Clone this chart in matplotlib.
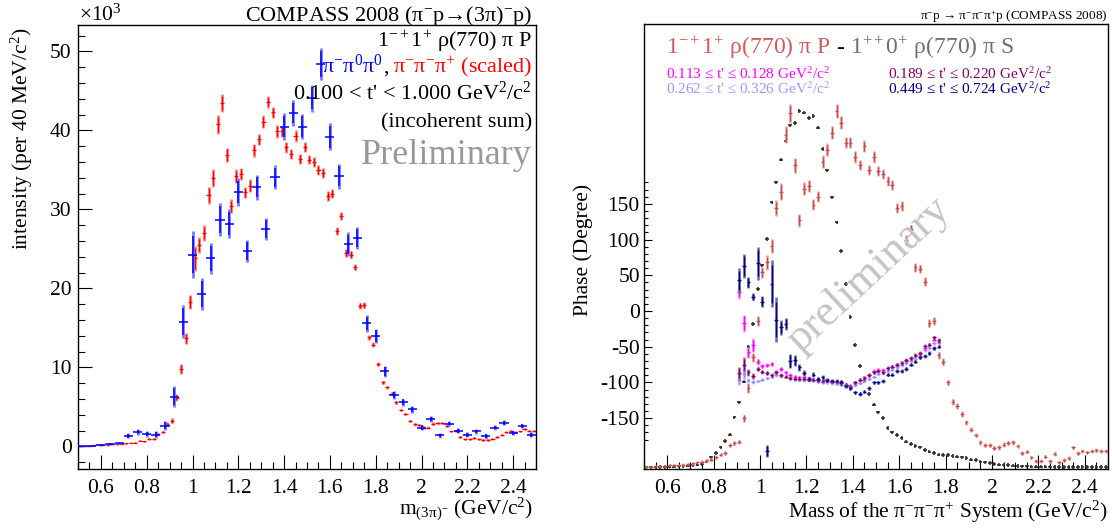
import numpy as np
import matplotlib
matplotlib.use("Agg")
import matplotlib.pyplot as plt
from matplotlib.ticker import FixedLocator, FuncFormatter

plt.rcParams['font.family'] = ['Liberation Serif', 'DejaVu Serif']
plt.rcParams['mathtext.fontset'] = 'custom'
plt.rcParams['mathtext.rm'] = 'Liberation Serif'
plt.rcParams['mathtext.it'] = 'Liberation Serif:italic'
plt.rcParams['mathtext.bf'] = 'Liberation Serif:bold'

W, H = 1112, 529

# ---------------- left panel data (x10^3) ----------------
mass_charged = np.round(np.arange(0.51, 2.50, 0.02), 2)     # 20 MeV bins
int_charged = [
    0.0, 0.05, 0.1, 0.15, 0.2, 0.2, 0.25, 0.3, 0.3, 0.35,
    0.4, 0.45, 0.5, 0.75, 0.65, 1.0, 1.0, 1.6, 1.85, 2.8,
    3.25, 6.2, 9.8, 13.7, 18.3, 23.8, 25.5, 27.0, 31.8, 34.0,
    40.8, 43.5, 36.9, 30.4, 34.2, 34.5, 32.2, 33.0, 37.5, 38.9,
    41.1, 43.6, 42.3, 39.9, 39.9, 37.9, 37.0, 39.3, 36.4, 37.9,
    36.3, 36.0, 35.0, 34.6, 31.7, 32.0, 27.3, 29.2, 24.5, 24.3,
    22.7, 17.8, 17.9, 13.8, 12.9, 10.4, 8.1, 7.5, 6.7, 5.6,
    4.6, 4.1, 3.2, 2.8, 2.7, 2.4, 2.4, 2.9, 3.0, 3.0,
    2.6, 1.9, 2.0, 1.2, 0.9, 0.9, 1.1, 0.9, 0.8, 0.8,
    1.0, 1.2, 1.5, 1.8, 2.0, 1.8, 1.9, 2.2, 2.0, 2.0]
int_charged_err = [
    0.05, 0.05, 0.05, 0.05, 0.05, 0.05, 0.05, 0.05, 0.05, 0.05,
    0.06, 0.06, 0.08, 0.1, 0.1, 0.12, 0.12, 0.15, 0.15, 0.25,
    0.3, 0.4, 0.6, 0.7, 0.9, 1.6, 1.0, 1.0, 1.1, 1.1,
    1.2, 1.1, 0.9, 0.9, 0.9, 0.8, 0.7, 0.8, 0.8, 0.7,
    0.8, 0.7, 0.7, 0.8, 0.7, 0.7, 0.6, 0.7, 0.6, 0.6,
    0.6, 0.6, 0.6, 0.6, 0.6, 0.6, 0.5, 0.5, 0.5, 0.5,
    0.4, 0.4, 0.4, 0.3, 0.3, 0.25, 0.25, 0.2, 0.2, 0.2,
    0.15, 0.15, 0.15, 0.15, 0.15, 0.15, 0.15, 0.15, 0.15, 0.15,
    0.12, 0.12, 0.12, 0.12, 0.12, 0.12, 0.12, 0.12, 0.12, 0.12,
    0.12, 0.12, 0.12, 0.12, 0.12, 0.12, 0.12, 0.12, 0.12, 0.12]

mass_neutral = np.round(np.arange(0.52, 2.50, 0.04), 2)     # 40 MeV bins
int_neutral = [
    0.0, 0.1, 0.2, 0.35, 0.4, 1.35, 1.85, 1.55, 1.5, 2.65,
    6.3, 15.8, 24.3, 19.3, 23.8, 28.7, 28.2, 32.2, 24.7, 32.8,
    27.5, 34.1, 40.5, 42.2, 40.5, 44.1, 48.4, 39.2, 34.2, 25.6,
    26.4, 15.6, 14.0, 9.5, 6.5, 5.6, 4.7, 2.4, 3.5, 1.4,
    2.9, 2.0, 1.5, 1.9, 1.3, 2.4, 3.0, 1.7, 2.6, 1.5]
int_neutral_err = [
    0.05, 0.05, 0.08, 0.1, 0.12, 0.3, 0.35, 0.35, 0.4, 0.6,
    1.3, 2.1, 3.0, 2.0, 2.0, 2.1, 1.8, 1.8, 1.4, 1.6,
    1.4, 1.5, 1.7, 1.6, 1.6, 1.7, 2.0, 1.7, 1.6, 1.5,
    1.4, 1.05, 0.9, 0.7, 0.5, 0.45, 0.4, 0.35, 0.35, 0.3,
    0.3, 0.3, 0.3, 0.3, 0.3, 0.3, 0.3, 0.3, 0.3, 0.3]

# ---------------- right panel data ----------------
mass_fit = np.round(np.arange(0.51, 2.50, 0.02), 2)
int_exotic = [   # 1-+1+ rho pi P intensity (scaled onto phase axis)
    -218, -218, -217.5, -217, -216.5, -216, -216, -215.5, -215, -214.5,
    -213.5, -212, -211, -209, -208, -205, -201, -199, -188, -185,
    -183, -150, -108, -65, -14, 54, 68, 91, 144, 167,
    247, 277, 204, 127, 171, 175, 149, 160, 209, 226,
    250, 280, 264, 236, 236, 216, 205, 231, 197, 216,
    196, 192, 182, 176, 144, 147, 99, 115, 61, 59,
    41, -17, -14, -62, -71, -100, -127, -133, -144, -156,
    -166, -174, -184, -188, -188, -192, -191, -187, -185, -184,
    -189, -199, -197, -205, -210, -210, -204, -210, -200, -212,
    -209, -206, -191, -199, -196, -198, -196, -195, -196, -196]
int_exotic_err = [
    1.5, 1.5, 1.5, 1.5, 1.5, 1.5, 1.5, 1.5, 1.5, 1.5,
    1.5, 1.5, 2, 2, 2, 2.5, 2.5, 3, 3, 3,
    3, 5, 7, 6, 7, 8, 10, 10, 11, 12,
    12, 13, 11, 9, 9, 9, 8, 8, 9, 9,
    9, 10, 9, 8, 8, 8, 7, 8, 7, 8,
    7, 7, 7, 7, 7, 7, 7, 6, 6, 6,
    6, 6, 5, 5, 5, 4, 4, 4, 4, 3,
    3, 3, 3, 3, 3, 3, 3, 3, 3, 3,
    2.5, 2.5, 2.5, 2.5, 2.5, 2.5, 2.5, 2.5, 2.5, 2.5,
    2.5, 2.5, 2.5, 2.5, 2.5, 2.5, 2.5, 2.5, 2.5, 2.5]
int_a1 = [   # 1++0+ rho pi S intensity (scaled)
    -219, -219, -219, -218.5, -218.5, -218, -218, -217.5, -217, -216.5,
    -216, -215, -214, -211, -205, -199, -191, -182, -173, -149,
    -128, -99, -50, -18, 31, 64, 101, 152, 180, 212,
    238, 260, 263, 280, 278, 270, 273, 257, 227, 197,
    159, 124, 84, 38, -8, -48, -77, -98, -116, -131,
    -142, -150, -164, -170, -174, -178, -183, -186, -189, -191,
    -195, -197, -199, -201, -202, -202, -203, -204, -205, -206,
    -208, -209, -211, -212, -213, -214, -215, -215.5, -216, -216.5,
    -217, -217.5, -217.5, -218, -218, -218, -218, -218, -218.5, -218.5,
    -218.5, -218.5, -218.5, -218.5, -218.5, -218.5, -218.5, -218.5, -218.5, -218.5]

mass_phase = np.round(np.arange(0.91, 1.78, 0.02), 2)
phase_t1 = [   # 0.113 < t' < 0.128
    27, -17, -58, -48, -71, -77, -76, -74, -86, -81,
    -86, -90, -92, -93, -93, -94, -96, -97, -99, -98,
    -98, -99, -100, -103, -106, -101, -97, -93, -89, -84,
    -82, -83, -80, -78, -75, -72, -70, -66, -63, -60,
    -52, -48, -40, -44]
phase_t1_err = [10, 12, 8, 10, 4, 3, 3, 3, 3, 3] + [2.5] * 34
phase_t2 = [   # 0.189 < t' < 0.220
    -87, -75, -86, -91, -81, -85, -87, -90, -86, -90,
    -92, -94, -95, -95, -95, -96, -96, -97, -98, -97,
    -99, -99, -101, -103, -105, -100, -96, -94, -90, -86,
    -84, -86, -80, -78, -75, -73, -69, -66, -62, -59,
    -49, -47, -37, -41]
phase_t2_err = [9, 10, 5, 4, 3, 3, 3, 3, 3, 3] + [2.5] * 34
phase_t3 = [   # 0.262 < t' < 0.326
    -97, -88, -97, -99, -98, -96, -94, -92, -90, -91,
    -92, -93, -95, -96, -97, -97, -98, -99, -100, -100,
    -101, -102, -103, -106, -108, -104, -101, -98, -95, -92,
    -88, -87, -84, -82, -79, -76, -73, -70, -67, -63,
    -55, -52, -45, -43]
phase_t3_err = [6, 8, 3, 3, 2, 2, 2, 2, 2, 2] + [2] * 34
phase_t4 = [   # 0.449 < t' < 0.724
    43, 63, 40, 20, 67, 13, -196, 38, -12, -23,
    -18, -70, -69, -79, -87, -95, -89, -95, -93, -97,
    -98, -98, -99, -105, -108, -114, -116, -113, -108, -100,
    -100, -98, -89, -89, -84, -84, -81, -75, -71, -65,
    -63, -59, -52, -50]
phase_t4_err = [17, 17, 8, 5, 23, 8, 8, 33, 31, 10,
                8, 10, 8, 5, 4, 3, 3, 3, 3, 3] + [2.5] * 24

# ---------------- figure ----------------
fig = plt.figure(figsize=(W / 100, H / 100), dpi=100)
ax1 = fig.add_axes([78 / W, 1 - 469 / H, 458 / W, 444 / H])
ax2 = fig.add_axes([644 / W, 1 - 469 / H, 464 / W, 445 / H])


def draw_err(ax, x, y, xe, ye, dark, light, lw_d, lw_l, frac=0.8, z=2):
    ye = np.asarray(ye, float)
    ax.errorbar(x, y, yerr=ye, fmt='none', ecolor=light, elinewidth=lw_l,
                capsize=0, zorder=z)
    ax.errorbar(x, y, xerr=xe, yerr=ye * frac, fmt='none', ecolor=dark,
                elinewidth=lw_d, capsize=0, zorder=z + 0.1)


# left panel
draw_err(ax1, mass_charged, int_charged, 0.009, int_charged_err,
         '#ff0000', '#ff7a7a', 0.9, 1.9, z=2)
draw_err(ax1, mass_neutral, int_neutral, 0.02, int_neutral_err,
         '#0000ff', '#7a7aff', 1.1, 2.0, z=3)

ax1.set_xlim(0.5, 2.5)
ax1.set_ylim(-2.85, 53.35)

# right panel
ax2.errorbar(mass_fit, int_a1, xerr=0.008, yerr=2.5, fmt='none',
             ecolor='#282828', elinewidth=1.1, capsize=0, zorder=2)
draw_err(ax2, mass_fit, int_exotic, 0.008, int_exotic_err,
         '#c84c4c', '#e6a0a0', 0.9, 1.8, z=2.5)
draw_err(ax2, mass_phase, phase_t3, 0.008, phase_t3_err,
         '#8c8cff', '#c4c4ff', 1.0, 1.8, z=3)
draw_err(ax2, mass_phase, phase_t1, 0.008, phase_t1_err,
         '#ff00ff', '#ff88ff', 1.0, 1.8, z=3.2)
draw_err(ax2, mass_phase, phase_t2, 0.008, phase_t2_err,
         '#800066', '#b070a0', 1.0, 1.8, z=3.4)
draw_err(ax2, mass_phase, phase_t4, 0.008, phase_t4_err,
         '#000080', '#6a6aa8', 1.0, 1.8, z=3.6)

ax2.set_xlim(0.5, 2.5)
ax2.set_ylim(-221.3, 402)

# ticks
xmaj = [0.6, 0.8, 1.0, 1.2, 1.4, 1.6, 1.8, 2.0, 2.2, 2.4]
xmin = np.round(np.arange(0.5, 2.501, 0.05), 2)
fmt = FuncFormatter(lambda v, p: f'{v:g}')
for ax in (ax1, ax2):
    ax.xaxis.set_major_locator(FixedLocator(xmaj))
    ax.xaxis.set_minor_locator(FixedLocator(xmin))
    ax.xaxis.set_major_formatter(fmt)
    ax.tick_params(axis='x', which='major', direction='in', length=10,
                   width=0.8, labelsize=15.5, pad=7)
    ax.tick_params(axis='x', which='minor', direction='in', length=5,
                   width=0.8)
    ax.tick_params(top=False, right=False, which='both')
    for s in ax.spines.values():
        s.set_linewidth(1.0)

ax1.yaxis.set_major_locator(FixedLocator([0, 10, 20, 30, 40, 50]))
ax1.yaxis.set_minor_locator(FixedLocator(np.arange(-2, 53, 2)))
ax1.yaxis.set_major_formatter(fmt)
ax1.tick_params(axis='y', which='major', direction='in', length=10,
                width=0.8, labelsize=15.5, pad=4.5)
ax1.tick_params(axis='y', which='minor', direction='in', length=5, width=0.8)

ax2.yaxis.set_major_locator(FixedLocator([-150, -100, -50, 0, 50, 100, 150]))
ax2.yaxis.set_minor_locator(FixedLocator(np.arange(-180, 181, 10)))
ax2.yaxis.set_major_formatter(fmt)
ax2.tick_params(axis='y', which='major', direction='in', length=6,
                width=0.8, labelsize=15.5, pad=3)
ax2.tick_params(axis='y', which='minor', direction='in', length=3, width=0.8)

# ---------------- texts ----------------
def ftext(x_px, y_px, s, **kw):
    return fig.text(x_px / W, 1 - y_px / H, s, **kw)


renderer = fig.canvas.get_renderer()


def pieces_line(x_px, y_px, pieces, size, align='left'):
    ts = [ftext(0, y_px, s, color=c, fontsize=size, ha='left', va='baseline')
          for s, c, g in pieces]
    ws = [t.get_window_extent(renderer=renderer).width + g
          for t, (s, c, g) in zip(ts, pieces)]
    x = x_px - sum(ws) if align == 'right' else x_px
    for t, w in zip(ts, ws):
        t.set_x(x / W)
        x += w


R = r'\mathregular'
# left panel texts
ftext(79, 21, '×10$^{' + R + '{3}}$', fontsize=15.5, ha='left', va='baseline')
ftext(532, 21, 'COMPASS 2008 (π$^{' + R + '{-}}$p→(3π)$^{' + R + '{-}}$p)',
      fontsize=16, ha='right', va='baseline')
ftext(532, 47, '$' + R + '{1^{-+}1^{+}}$ ρ(770) π P',
      fontsize=16, ha='right', va='baseline')
pieces_line(532, 73, [('π$^{' + R + '{-}}$π$^{' + R + '{0}}$π$^{' + R + '{0}}$', '#0000ff', 0),
                      (',', 'black', 4),
                      ('π$^{' + R + '{-}}$π$^{' + R + '{-}}$π$^{' + R + '{+}}$ (scaled)', '#ff0000', 0)],
            16, align='right')
ftext(532, 100, "0.100 < t' < 1.000 GeV$^{" + R + "{2}}$/c$^{" + R + "{2}}$",
      fontsize=16, ha='right', va='baseline')
ftext(532, 127, '(incoherent sum)', fontsize=16, ha='right', va='baseline')
ftext(532, 164, 'Preliminary', fontsize=26, color='#999999', ha='right',
      va='baseline')
ftext(533, 515, 'm$_{' + R + '{(3π)^{-}}}$ (GeV/c$^{' + R + '{2}}$)',
      fontsize=15.5, ha='right', va='baseline')
ftext(22, 28, 'intensity (per 40 MeV/c$^{' + R + '{2}}$)', fontsize=15.5,
      rotation=90, ha='center', va='top')

# right panel texts
ftext(1108, 20, 'π$^{' + R + '{-}}$p → π$^{' + R + '{-}}$π$^{' + R + '{-}}$π$^{' + R + '{+}}$p (COMPASS 2008)',
      fontsize=9.5, ha='right', va='baseline')
pieces_line(666, 54, [('$' + R + '{1^{-+}1^{+}}$ ρ(770) π P', '#cd5c5c', 6),
                      ('-', 'black', 6),
                      ('$' + R + '{1^{++}0^{+}}$ ρ(770) π S', '#707070', 0)],
            17, align='left')
leg = [(666, 79, '0.113', '0.128', '#ff00ff'),
       (888, 79, '0.189', '0.220', '#800066'),
       (666, 94, '0.262', '0.326', '#9999ff'),
       (888, 94, '0.449', '0.724', '#000080')]
for x, y, lo, hi, c in leg:
    ftext(x, y, lo + " ≤ t' ≤ " + hi + " GeV$^{" + R + "{2}}$/c$^{" + R + "{2}}$",
          fontsize=11, color=c, ha='left', va='baseline')
ftext(1108, 518, 'Mass of the π$^{' + R + '{-}}$π$^{' + R + '{-}}$π$^{' + R + '{+}}$ System (GeV/c$^{' + R + '{2}}$)',
      fontsize=15.5, ha='right', va='baseline')
ftext(583, 250, 'Phase (Degree)', fontsize=15.5, rotation=90, ha='center',
      va='center')
ftext(868, 275, 'preliminary', fontsize=32, color='#c4c4c4', rotation=43,
      rotation_mode='anchor', ha='center', va='center', zorder=10)

fig.savefig('out.png', dpi=100)
